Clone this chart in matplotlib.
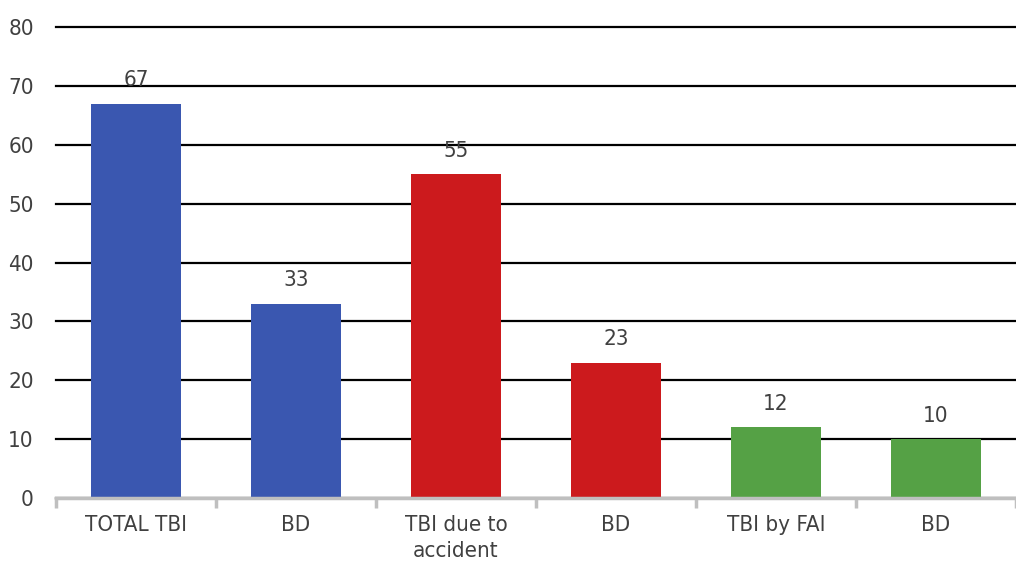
import matplotlib.pyplot as plt
from matplotlib import font_manager

categories = ["TOTAL TBI", "BD", "TBI due to\naccident", "BD", "TBI by FAI", "BD"]
values = [67, 33, 55, 23, 12, 10]
bar_colors = ["#3A57B0", "#3A57B0", "#CC1A1D", "#CC1A1D", "#55A145", "#55A145"]
y_ticks = [0, 10, 20, 30, 40, 50, 60, 70, 80]

# condensed font if one is around
fonts = font_manager.fontManager.ttflist
names = {f.name for f in fonts}
narrow = [f for f in fonts if f.name == "DejaVu Sans" and "condensed" in str(f.stretch)]
if "Liberation Sans Narrow" in names:
    plt.rcParams["font.family"] = ["Liberation Sans Narrow", "DejaVu Sans"]
elif narrow:
    plt.rcParams["font.family"] = ["DejaVu Sans"]
    plt.rcParams["font.stretch"] = "condensed"
else:
    plt.rcParams["font.family"] = ["DejaVu Sans"]

text_color = "#404040"
fs = 16

fig = plt.figure(figsize=(10.16, 5.66), dpi=100)
ax = fig.add_axes([0.0551, 0.12, 0.9449, 0.832])

x = list(range(len(categories)))
ax.bar(x, values, width=0.56, color=bar_colors, zorder=3)

for xi, v in zip(x, values):
    ax.text(xi, v + 2.3, str(v), ha="center", va="bottom",
            fontsize=fs, color=text_color, zorder=4)

ax.set_ylim(0, 80)
ax.set_xlim(-0.5, len(categories) - 0.5)
ax.set_yticks(y_ticks)
ax.yaxis.grid(True, color="black", linewidth=1.6, zorder=0)
ax.set_axisbelow(True)
for gl in ax.yaxis.get_gridlines():
    gl.set_clip_on(False)

ax.set_xticks(x)
ax.set_xticklabels(categories, linespacing=1.4)
ax.set_xticks([i - 0.5 for i in range(len(categories) + 1)], minor=True)
ax.tick_params(axis="x", which="major", length=0, pad=12,
               labelsize=fs, labelcolor=text_color)
ax.tick_params(axis="x", which="minor", length=7, width=2.5, color="#BFBFBF")
ax.tick_params(axis="y", length=0, pad=16, labelsize=fs, labelcolor=text_color)

for s in ["left", "top", "right"]:
    ax.spines[s].set_visible(False)
ax.spines["bottom"].set_color("#BFBFBF")
ax.spines["bottom"].set_linewidth(2.5)
ax.spines["bottom"].set_zorder(5)

fig.savefig("out.png", dpi=100)
